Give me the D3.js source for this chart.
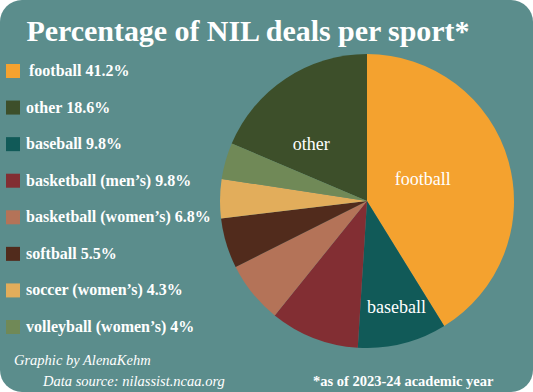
<!DOCTYPE html>
<html>
<head>
<meta charset="utf-8">
<script src="https://cdn.jsdelivr.net/npm/d3@7"></script>
<style>
  body { margin: 0; background: #fff; }
  svg { display: block; }
  text { font-family: "Liberation Serif", "DejaVu Serif", serif; fill: #fff; }
</style>
</head>
<body>
<svg></svg>
<script>
// Data (legend order)
var sports = ["football", "other", "baseball", "basketball (men\u2019s)", "basketball (women\u2019s)",
              "softball", "soccer (women\u2019s)", "volleyball (women\u2019s)"];
var shares = [41.2, 18.6, 9.8, 9.8, 6.8, 5.5, 4.3, 4];
var shareLabels = ["41.2%", "18.6%", "9.8%", "9.8%", "6.8%", "5.5%", "4.3%", "4%"];
var colors = ["#f4a22f", "#3d4f2a", "#115a58", "#822e33", "#b47358", "#512b1c", "#e2ad5b", "#708957"];
// order the slices go round the pie (clockwise from 12 o'clock)
var pieOrder = ["football", "baseball", "basketball (men\u2019s)", "basketball (women\u2019s)",
                "softball", "soccer (women\u2019s)", "volleyball (women\u2019s)", "other"];
var sliceLabels = ["football", "baseball", "other"];

var width = 533;
var height = 392;

var svg = d3.select('svg')
    .attr('width', width)
    .attr('height', height);

svg.append('rect')
    .attr('width', width)
    .attr('height', height)
    .attr('rx', 22)
    .attr('fill', '#5b8d8c');

// title
svg.append('text')
    .attr('x', 248)
    .attr('y', 41)
    .attr('text-anchor', 'middle')
    .attr('textLength', 443)
    .style('font-size', '30px')
    .style('font-weight', 'bold')
    .text('Percentage of NIL deals per sport*');

var color = d3.scaleOrdinal().domain(sports).range(colors);

var rows = sports.map(function (s, i) {
    return { name: s, value: shares[i], label: shareLabels[i] };
});

// legend
var y = d3.scalePoint().domain(sports).range([71, 327]);

var legend = svg.selectAll('.legend')
    .data(rows)
    .enter().append('g')
    .attr('class', 'legend')
    .attr('transform', function (d) { return 'translate(0,' + y(d.name) + ')'; });

legend.append('rect')
    .attr('x', 6)
    .attr('y', -7)
    .attr('width', 14)
    .attr('height', 14)
    .attr('fill', function (d) { return color(d.name); });

legend.append('text')
    .attr('x', function (d, i) { return i == 0 ? 29 : 26; })
    .attr('y', 5)
    .style('font-size', '16px')
    .style('font-weight', 'bold')
    .text(function (d) { return d.name + ' ' + d.label; });

// pie
var radius = 147;
var g = svg.append('g')
    .attr('transform', 'translate(367,201)');

var pie = d3.pie()
    .sort(function (a, b) { return pieOrder.indexOf(a.name) - pieOrder.indexOf(b.name); })
    .value(function (d) { return d.value; });

var arc = d3.arc()
    .innerRadius(0)
    .outerRadius(radius);

var arcs = pie(rows);

g.selectAll('path')
    .data(arcs)
    .enter().append('path')
    .attr('d', arc)
    .attr('fill', function (d) { return color(d.data.name); });

var labelArc = d3.arc()
    .innerRadius(radius * 0.6)
    .outerRadius(radius * 0.6);

g.selectAll('.slice-label')
    .data(arcs.filter(function (d) { return sliceLabels.indexOf(d.data.name) >= 0; }))
    .enter().append('text')
    .attr('class', 'slice-label')
    .attr('transform', function (d) {
        var c = labelArc.centroid(d);
        if (d.data.name == 'baseball') { c = [c[0] + 8, c[1] + 20]; }
        if (d.data.name == 'football') { c = [c[0] - 29, c[1] + 2]; }
        if (d.data.name == 'other') { c = [c[0] - 7, c[1] + 16]; }
        return 'translate(' + c + ')';
    })
    .attr('text-anchor', 'middle')
    .attr('dy', '0.35em')
    .style('font-size', '18px')
    .text(function (d) { return d.data.name; });

// credits
svg.append('text')
    .attr('x', 14)
    .attr('y', 365)
    .style('font-size', '14.5px')
    .style('font-style', 'italic')
    .text('Graphic by AlenaKehm');

svg.append('text')
    .attr('x', 43)
    .attr('y', 386)
    .style('font-size', '14.5px')
    .style('font-style', 'italic')
    .text('Data source: nilassist.ncaa.org');

svg.append('text')
    .attr('x', 313)
    .attr('y', 386)
    .style('font-size', '14.5px')
    .style('font-weight', 'bold')
    .text('*as of 2023-24 academic year');
</script>
</body>
</html>
